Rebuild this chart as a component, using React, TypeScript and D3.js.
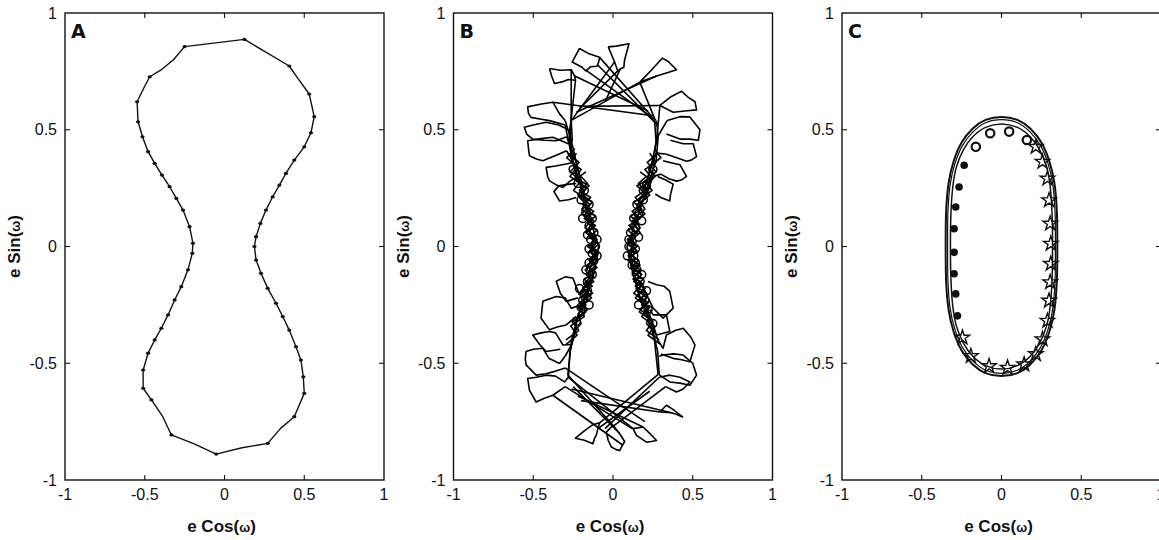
import React from 'react';
import * as d3 from 'd3';

type Pt = [number, number];
type TPt = [number, number, number];

// ---------- axes ----------
const tickValues = [-1, -0.5, 0, 0.5, 1];
const tickLabels = ['-1', '-0.5', '0', '0.5', '1'];
const innerTicks = [-0.5, 0, 0.5];
const panelLetters = ['A', 'B', 'C'];

// ---------- panel A: cusp track (x, y, isCusp) ----------
const aTrack: TPt[] = [
  [0.125, 0.887, 1], [0.406, 0.773, 1], [0.46, 0.72, 0], [0.531, 0.653, 1], [0.5625, 0.556, 1],
  [0.542, 0.487, 1], [0.5, 0.427, 1], [0.4375, 0.37, 1], [0.385, 0.313, 1], [0.344, 0.263, 1],
  [0.302, 0.213, 1], [0.26, 0.156, 1], [0.225, 0.099, 1], [0.198, 0.042, 1], [0.1875, 0, 1],
  [0.198, -0.058, 1], [0.229, -0.115, 1], [0.271, -0.179, 1], [0.323, -0.243, 1], [0.365, -0.3, 1],
  [0.406, -0.358, 1], [0.448, -0.429, 1], [0.479, -0.486, 1], [0.494, -0.558, 1], [0.5, -0.629, 1],
  [0.4375, -0.729, 1], [0.35, -0.78, 0], [0.271, -0.843, 1], [0.11, -0.862, 0], [-0.052, -0.889, 1],
  [-0.19, -0.845, 0], [-0.333, -0.807, 1], [-0.39, -0.725, 0], [-0.458, -0.657, 1], [-0.51, -0.607, 1],
  [-0.51, -0.529, 1], [-0.479, -0.457, 1], [-0.4375, -0.4, 1], [-0.396, -0.35, 1], [-0.354, -0.293, 1],
  [-0.3125, -0.229, 1], [-0.271, -0.172, 1], [-0.229, -0.1, 1], [-0.202, -0.029, 1], [-0.198, 0.014, 1],
  [-0.219, 0.085, 1], [-0.26, 0.156, 1], [-0.302, 0.206, 1], [-0.344, 0.256, 1], [-0.392, 0.306, 1],
  [-0.4375, 0.356, 1], [-0.479, 0.406, 1], [-0.514, 0.47, 1], [-0.542, 0.534, 1], [-0.548, 0.62, 1],
  [-0.505, 0.68, 0], [-0.469, 0.727, 1], [-0.4, 0.755, 0], [-0.32, 0.8, 0], [-0.25, 0.856, 1],
];

// ---------- panel B ----------
const bTopPetals: Pt[][] = [
  [[-0.03, 0.855], [0.02, 0.858], [0.1, 0.868], [0.085, 0.83], [0.073, 0.8], [0.068, 0.768], [0.045, 0.76], [0.03, 0.752], [0.01, 0.79], [-0.03, 0.855]],
  [[-0.21, 0.848], [-0.15, 0.825], [-0.084, 0.81], [-0.09, 0.79], [-0.1, 0.772], [-0.14, 0.77], [-0.17, 0.752], [-0.2, 0.77], [-0.256, 0.79], [-0.21, 0.848]],
  [[-0.398, 0.762], [-0.33, 0.755], [-0.262, 0.757], [-0.24, 0.73], [-0.235, 0.712], [-0.28, 0.715], [-0.32, 0.705], [-0.367, 0.698], [-0.385, 0.73], [-0.398, 0.762]],
  [[0.168, 0.704], [0.24, 0.755], [0.31, 0.807], [0.35, 0.79], [0.398, 0.757], [0.33, 0.742], [0.273, 0.73], [0.168, 0.704]],
  [[0.294, 0.604], [0.36, 0.64], [0.43, 0.665], [0.47, 0.64], [0.514, 0.62], [0.524, 0.585], [0.45, 0.58], [0.377, 0.575], [0.294, 0.604]],
  [[0.34, 0.54], [0.42, 0.556], [0.482, 0.555], [0.545, 0.5], [0.535, 0.455], [0.48, 0.46], [0.42, 0.46], [0.335, 0.482]],
  [[0.36, 0.455], [0.44, 0.44], [0.503, 0.44], [0.524, 0.385], [0.49, 0.37], [0.461, 0.365], [0.4, 0.38], [0.33, 0.396]],
  [[0.314, 0.367], [0.37, 0.358], [0.42, 0.35], [0.461, 0.3], [0.43, 0.285], [0.398, 0.28], [0.35, 0.29], [0.3, 0.31]],
  [[0.28, 0.3], [0.33, 0.285], [0.377, 0.267], [0.36, 0.22], [0.356, 0.195], [0.3, 0.21], [0.265, 0.225]],
  [[-0.3, 0.54], [-0.335, 0.568], [-0.377, 0.618], [-0.45, 0.61], [-0.535, 0.598], [-0.53, 0.57], [-0.514, 0.553], [-0.45, 0.545], [-0.398, 0.539], [-0.3, 0.52]],
  [[-0.28, 0.5], [-0.34, 0.52], [-0.419, 0.532], [-0.5, 0.52], [-0.556, 0.511], [-0.54, 0.48], [-0.503, 0.46], [-0.43, 0.455], [-0.356, 0.453], [-0.29, 0.47]],
  [[-0.28, 0.44], [-0.377, 0.468], [-0.45, 0.462], [-0.535, 0.453], [-0.53, 0.42], [-0.524, 0.389], [-0.48, 0.375], [-0.44, 0.367], [-0.36, 0.39], [-0.29, 0.41]],
  [[-0.25, 0.36], [-0.294, 0.353], [-0.36, 0.345], [-0.419, 0.339], [-0.41, 0.3], [-0.398, 0.281], [-0.35, 0.262], [-0.314, 0.253], [-0.27, 0.28], [-0.231, 0.296]],
  [[-0.23, 0.27], [-0.273, 0.267], [-0.34, 0.26], [-0.37, 0.235], [-0.335, 0.195], [-0.28, 0.2], [-0.231, 0.21]],
];

const bBottomPetals: Pt[][] = [
  [[-0.084, -0.755], [-0.126, -0.763], [-0.18, -0.79], [-0.235, -0.821], [-0.18, -0.83], [-0.126, -0.845], [-0.115, -0.82], [-0.105, -0.809], [-0.095, -0.78], [-0.084, -0.755]],
  [[0, -0.766], [-0.042, -0.795], [-0.03, -0.83], [-0.01, -0.859], [0.02, -0.87], [0.042, -0.874], [0.06, -0.85], [0.073, -0.835], [0.04, -0.8], [0, -0.766]],
  [[0.126, -0.78], [0.147, -0.809], [0.21, -0.838], [0.24, -0.835], [0.273, -0.831], [0.23, -0.8], [0.189, -0.773], [0.126, -0.78]],
  [[0.294, -0.709], [0.335, -0.68], [0.38, -0.7], [0.436, -0.73], [0.4, -0.72], [0.367, -0.712], [0.294, -0.709]],
  [[-0.3, -0.47], [-0.335, -0.501], [-0.4, -0.48], [-0.44, -0.436], [-0.5, -0.44], [-0.545, -0.45], [-0.55, -0.48], [-0.545, -0.507], [-0.482, -0.551], [-0.42, -0.545], [-0.377, -0.537], [-0.3, -0.52]],
  [[-0.28, -0.56], [-0.304, -0.58], [-0.36, -0.555], [-0.419, -0.551], [-0.48, -0.56], [-0.535, -0.565], [-0.524, -0.615], [-0.482, -0.666], [-0.43, -0.65], [-0.377, -0.637], [-0.3, -0.6]],
  [[-0.26, -0.42], [-0.314, -0.422], [-0.36, -0.37], [-0.398, -0.364], [-0.45, -0.37], [-0.503, -0.379], [-0.46, -0.42], [-0.419, -0.45], [-0.33, -0.44]],
  [[-0.2, -0.25], [-0.262, -0.264], [-0.3, -0.22], [-0.356, -0.214], [-0.44, -0.235], [-0.451, -0.307], [-0.398, -0.357], [-0.35, -0.345], [-0.294, -0.336], [-0.23, -0.3]],
  [[-0.18, -0.17], [-0.21, -0.207], [-0.252, -0.135], [-0.3, -0.13], [-0.356, -0.149], [-0.33, -0.2], [-0.294, -0.235], [-0.22, -0.22]],
  [[0.28, -0.4], [0.314, -0.436], [0.335, -0.379], [0.39, -0.36], [0.44, -0.35], [0.49, -0.39], [0.514, -0.422], [0.482, -0.494], [0.43, -0.485], [0.377, -0.479], [0.3, -0.46]],
  [[0.29, -0.47], [0.314, -0.465], [0.38, -0.46], [0.44, -0.465], [0.5, -0.5], [0.524, -0.551], [0.482, -0.594], [0.42, -0.585], [0.356, -0.58], [0.29, -0.55]],
  [[0.29, -0.56], [0.356, -0.551], [0.42, -0.56], [0.482, -0.58], [0.44, -0.61], [0.398, -0.623], [0.33, -0.6]],
  [[0.22, -0.15], [0.273, -0.164], [0.32, -0.17], [0.356, -0.192], [0.377, -0.264], [0.314, -0.307], [0.252, -0.264], [0.22, -0.22]],
  [[0.23, -0.27], [0.252, -0.293], [0.335, -0.293], [0.356, -0.364], [0.273, -0.379], [0.24, -0.34]],
];

const bStrands: Pt[][] = [
  [[-0.17, 0.755], [0.27, 0.54]], [[-0.094, 0.776], [0.28, 0.52]], [[-0.084, 0.81], [0.24, 0.56]],
  [[-0.24, 0.73], [0.22, 0.58]], [[0.03, 0.752], [-0.21, 0.59]], [[0.01, 0.79], [-0.262, 0.539]],
  [[0.045, 0.76], [-0.05, 0.62]], [[0.168, 0.704], [-0.262, 0.54]], [[0.273, 0.73], [-0.23, 0.575]],
  [[0.294, 0.604], [-0.21, 0.6]], [[-0.377, 0.618], [0.25, 0.56]],
  [[-0.3, 0.54], [-0.26, 0.45], [-0.21, 0.3], [-0.17, 0.2]], [[-0.29, 0.47], [-0.24, 0.38], [-0.19, 0.26]],
  [[-0.29, 0.41], [-0.25, 0.36]], [[-0.3, 0.52], [-0.27, 0.42], [-0.23, 0.3]],
  [[-0.262, 0.757], [-0.262, 0.54], [-0.255, 0.45]], [[-0.235, 0.712], [-0.27, 0.5], [-0.26, 0.4]],
  [[0.34, 0.54], [0.28, 0.47], [0.24, 0.35], [0.2, 0.25]], [[0.33, 0.396], [0.27, 0.4], [0.22, 0.3]],
  [[0.3, 0.31], [0.25, 0.3], [0.2, 0.2]], [[0.294, 0.604], [0.28, 0.5], [0.26, 0.4]],
  [[0.168, 0.704], [0.26, 0.55], [0.27, 0.45]],
  [[-0.3, -0.47], [-0.26, -0.42], [-0.22, -0.3], [-0.18, -0.22]], [[-0.28, -0.56], [-0.27, -0.45], [-0.23, -0.35]],
  [[-0.2, -0.25], [-0.16, -0.2]], [[0.28, -0.4], [0.25, -0.33], [0.2, -0.24]],
  [[0.29, -0.55], [0.28, -0.45], [0.24, -0.33]], [[0.22, -0.22], [0.18, -0.16]],
  [[-0.084, -0.755], [0.28, -0.55]], [[-0.095, -0.78], [0.23, -0.62]], [[0, -0.766], [-0.283, -0.55]],
  [[0.04, -0.8], [-0.25, -0.6]], [[0.126, -0.78], [-0.28, -0.56]], [[0.189, -0.773], [-0.22, -0.64]],
  [[0.294, -0.709], [-0.2, -0.66]], [[0.367, -0.712], [-0.26, -0.61]], [[-0.3, -0.6], [0.12, -0.78]],
  [[-0.377, -0.637], [0.06, -0.85]], [[-0.3, -0.52], [0.2, -0.75]], [[0.29, -0.56], [-0.05, -0.78]],
  [[0.33, -0.6], [0.0, -0.77]],
];

const bRims: Pt[][] = [
  [[-0.262, 0.539], [-0.275, 0.468], [-0.25, 0.367], [-0.2, 0.25], [-0.15, 0.13], [-0.09, 0], [-0.115, -0.1], [-0.16, -0.2], [-0.22, -0.3], [-0.26, -0.4], [-0.283, -0.551]],
  [[0.273, 0.539], [0.283, 0.468], [0.27, 0.367], [0.2, 0.22], [0.14, 0.1], [0.088, 0], [0.12, -0.1], [0.16, -0.2], [0.22, -0.3], [0.26, -0.4], [0.283, -0.551]],
];

const bBands: Pt[][] = [
  [[-0.24, 0.42], [-0.29, 0.38], [-0.225, 0.34], [-0.27, 0.3], [-0.185, 0.26], [-0.22, 0.22], [-0.145, 0.18], [-0.195, 0.14], [-0.13, 0.1], [-0.17, 0.06], [-0.1, 0.02], [-0.145, -0.02], [-0.098, -0.06], [-0.175, -0.1], [-0.128, -0.14], [-0.19, -0.18], [-0.135, -0.22], [-0.21, -0.26], [-0.18, -0.3], [-0.265, -0.34], [-0.225, -0.38], [-0.295, -0.42]],
  [[-0.285, 0.4], [-0.213, 0.36], [-0.268, 0.32], [-0.203, 0.28], [-0.248, 0.24], [-0.163, 0.2], [-0.195, 0.16], [-0.128, 0.12], [-0.175, 0.08], [-0.115, 0.04], [-0.147, 0], [-0.096, -0.04], [-0.161, -0.08], [-0.121, -0.12], [-0.184, -0.16], [-0.128, -0.2], [-0.203, -0.24], [-0.17, -0.28], [-0.248, -0.32], [-0.215, -0.36], [-0.295, -0.4]],
  [[-0.2, 0.3], [-0.16, 0.27], [-0.21, 0.24], [-0.14, 0.21], [-0.19, 0.18], [-0.12, 0.15], [-0.18, 0.12], [-0.11, 0.09], [-0.17, 0.06], [-0.1, 0.03], [-0.16, 0], [-0.09, -0.03], [-0.15, -0.06], [-0.1, -0.09], [-0.17, -0.12], [-0.12, -0.15], [-0.19, -0.18], [-0.14, -0.21], [-0.21, -0.24], [-0.16, -0.27], [-0.22, -0.3]],
  [[-0.17, 0.32], [-0.23, 0.29], [-0.15, 0.26], [-0.2, 0.225], [-0.13, 0.19], [-0.17, 0.16], [-0.11, 0.13], [-0.16, 0.1], [-0.1, 0.07], [-0.15, 0.04], [-0.09, 0.01], [-0.14, -0.02], [-0.1, -0.05], [-0.16, -0.08], [-0.11, -0.11], [-0.18, -0.14], [-0.13, -0.17], [-0.2, -0.2], [-0.15, -0.23], [-0.22, -0.26], [-0.18, -0.29], [-0.24, -0.32]],
  [[-0.23, 0.4], [-0.26, 0.36], [-0.2, 0.33], [-0.24, 0.29], [-0.17, 0.25], [-0.21, 0.21], [-0.15, 0.17], [-0.18, 0.13], [-0.12, 0.11], [-0.16, 0.07], [-0.11, 0.04], [-0.13, 0], [-0.1, -0.02], [-0.14, -0.05], [-0.11, -0.08], [-0.15, -0.11], [-0.12, -0.13], [-0.17, -0.16], [-0.15, -0.19], [-0.2, -0.22], [-0.17, -0.25], [-0.22, -0.29], [-0.2, -0.33], [-0.25, -0.37]],
  [[0.26, 0.42], [0.3, 0.38], [0.22, 0.34], [0.265, 0.3], [0.19, 0.26], [0.23, 0.22], [0.15, 0.18], [0.2, 0.14], [0.125, 0.1], [0.17, 0.06], [0.105, 0.02], [0.15, -0.02], [0.095, -0.06], [0.17, -0.1], [0.125, -0.14], [0.2, -0.18], [0.14, -0.22], [0.22, -0.26], [0.18, -0.3], [0.26, -0.34], [0.22, -0.38], [0.3, -0.42]],
  [[0.28, 0.4], [0.215, 0.36], [0.27, 0.32], [0.2, 0.28], [0.245, 0.24], [0.165, 0.2], [0.2, 0.16], [0.13, 0.12], [0.17, 0.08], [0.11, 0.04], [0.15, 0], [0.095, -0.04], [0.165, -0.08], [0.12, -0.12], [0.185, -0.16], [0.13, -0.2], [0.21, -0.24], [0.165, -0.28], [0.25, -0.32], [0.21, -0.36], [0.29, -0.4]],
  [[0.21, 0.3], [0.16, 0.27], [0.2, 0.24], [0.14, 0.21], [0.18, 0.18], [0.12, 0.15], [0.17, 0.12], [0.1, 0.09], [0.15, 0.06], [0.09, 0.03], [0.15, 0], [0.1, -0.03], [0.16, -0.06], [0.11, -0.09], [0.18, -0.12], [0.13, -0.15], [0.2, -0.18], [0.15, -0.21], [0.22, -0.24], [0.17, -0.27], [0.23, -0.3]],
  [[0.17, 0.32], [0.23, 0.29], [0.15, 0.26], [0.21, 0.225], [0.13, 0.19], [0.18, 0.16], [0.11, 0.13], [0.16, 0.1], [0.095, 0.07], [0.14, 0.04], [0.09, 0.01], [0.15, -0.02], [0.1, -0.05], [0.17, -0.08], [0.12, -0.11], [0.19, -0.14], [0.14, -0.17], [0.21, -0.2], [0.16, -0.23], [0.23, -0.26], [0.19, -0.29], [0.25, -0.32]],
  [[0.23, 0.4], [0.27, 0.36], [0.2, 0.33], [0.25, 0.29], [0.17, 0.25], [0.21, 0.21], [0.15, 0.17], [0.18, 0.13], [0.12, 0.11], [0.16, 0.07], [0.105, 0.04], [0.13, 0], [0.1, -0.02], [0.14, -0.05], [0.11, -0.08], [0.16, -0.11], [0.13, -0.13], [0.18, -0.16], [0.16, -0.19], [0.21, -0.22], [0.18, -0.25], [0.23, -0.29], [0.21, -0.33], [0.26, -0.37]],
];

const bBandLoops: Pt[] = [
  [-0.25, 0.33], [-0.22, 0.27], [-0.2, 0.2], [-0.17, 0.15], [-0.15, 0.09], [-0.14, 0.03], [-0.13, -0.03], [-0.14, -0.09],
  [-0.16, -0.15], [-0.18, -0.2], [-0.2, -0.26], [-0.23, -0.32], [-0.19, 0.12], [-0.11, 0.0], [-0.16, 0.05], [-0.12, -0.06],
  [-0.17, -0.1], [-0.21, -0.18], [-0.18, 0.24], [-0.15, 0.18], [-0.13, 0.12], [-0.12, 0.06], [-0.1, 0.03], [-0.15, -0.01],
  [-0.1, -0.04], [-0.15, -0.07], [-0.13, -0.12], [-0.16, -0.19], [-0.19, -0.23], [-0.15, -0.25],
  [0.25, 0.33], [0.21, 0.26], [0.19, 0.2], [0.16, 0.14], [0.14, 0.08], [0.12, 0.02], [0.13, -0.04], [0.15, -0.1],
  [0.17, -0.15], [0.19, -0.21], [0.22, -0.27], [0.25, -0.33], [0.18, 0.11], [0.1, 0.0], [0.16, 0.04], [0.12, -0.08],
  [0.18, -0.12], [0.21, -0.19], [0.19, 0.24], [0.15, 0.18], [0.13, 0.12], [0.11, 0.06], [0.1, 0.03], [0.14, -0.01],
  [0.09, -0.04], [0.14, -0.07], [0.15, -0.12], [0.17, -0.18], [0.2, -0.23], [0.16, -0.25],
];

// ---------- panel C ----------
const cOuter: Pt[] = [
  [0, 0.555], [0.1, 0.542], [0.18, 0.505], [0.25, 0.445], [0.3, 0.365], [0.332, 0.27], [0.347, 0.15], [0.35, 0],
  [0.347, -0.15], [0.332, -0.27], [0.3, -0.365], [0.25, -0.445], [0.18, -0.505], [0.1, -0.542], [0, -0.555],
  [-0.1, -0.542], [-0.18, -0.505], [-0.25, -0.445], [-0.3, -0.365], [-0.332, -0.27], [-0.347, -0.15], [-0.35, 0],
  [-0.347, 0.15], [-0.332, 0.27], [-0.3, 0.365], [-0.25, 0.445], [-0.18, 0.505], [-0.1, 0.542],
];
const cMid: Pt[] = [
  [0, 0.543], [0.1, 0.53], [0.18, 0.49], [0.245, 0.432], [0.292, 0.355], [0.322, 0.265], [0.336, 0.145], [0.338, 0],
  [0.336, -0.145], [0.322, -0.265], [0.292, -0.355], [0.245, -0.432], [0.18, -0.49], [0.1, -0.53], [0, -0.543],
  [-0.1, -0.53], [-0.18, -0.49], [-0.245, -0.432], [-0.292, -0.355], [-0.322, -0.265], [-0.336, -0.145], [-0.338, 0],
  [-0.336, 0.145], [-0.322, 0.265], [-0.292, 0.355], [-0.245, 0.432], [-0.18, 0.49], [-0.1, 0.53],
];
const cInner: Pt[] = [
  [0, 0.525], [0.1, 0.51], [0.18, 0.47], [0.238, 0.415], [0.282, 0.342], [0.305, 0.258], [0.317, 0.14], [0.32, 0],
  [0.317, -0.14], [0.305, -0.258], [0.282, -0.342], [0.238, -0.415], [0.18, -0.47], [0.1, -0.51], [0, -0.525],
  [-0.1, -0.51], [-0.18, -0.47], [-0.238, -0.415], [-0.282, -0.342], [-0.305, -0.258], [-0.317, -0.14], [-0.32, 0],
  [-0.317, 0.14], [-0.305, 0.258], [-0.282, 0.342], [-0.238, 0.415], [-0.18, 0.47], [-0.1, 0.51],
];
const cStars: Pt[] = [
  [0.215, 0.427], [0.257, 0.363], [0.288, 0.291], [0.298, 0.198], [0.305, 0.098], [0.309, 0.012], [0.309, -0.074],
  [0.305, -0.153], [0.298, -0.232], [0.288, -0.318], [0.257, -0.397], [0.215, -0.461], [0.142, -0.505],
  [0.038, -0.519], [-0.078, -0.512], [-0.192, -0.469], [-0.245, -0.39],
];
const cRings: Pt[] = [[-0.161, 0.427], [-0.071, 0.485], [0.048, 0.492], [0.159, 0.456]];
const cBlobs: Pt[] = [
  [-0.234, 0.348], [-0.266, 0.255], [-0.287, 0.169], [-0.297, 0.076], [-0.297, -0.025], [-0.297, -0.117],
  [-0.287, -0.203], [-0.276, -0.297],
];

// ---------- layout ----------
const W = 1159;
const H = 540;
const PLOT_TOP = 13;
const PLOT_BOTTOM = 480;
const PLOT_W = 319;
const PANEL_LEFTS = [65, 453.5, 842];
const FONT = "'Liberation Sans', Arial, Helvetica, sans-serif";

function AxisLabel({ x, y, base, rotate }: { x: number; y: number; base: string; rotate?: boolean }) {
  return (
    <text
      x={x}
      y={y}
      textAnchor="middle"
      fontFamily={FONT}
      fontWeight="bold"
      fontSize={17}
      fill="#111"
      transform={rotate ? `rotate(-90 ${x} ${y})` : undefined}
    >
      {base}(<tspan fontSize={13}>ω</tspan>)
    </text>
  );
}

export default function App() {
  const yScale = d3.scaleLinear().domain([-1, 1]).range([PLOT_BOTTOM, PLOT_TOP]);

  const panels = PANEL_LEFTS.map((left, i) => {
    const xScale = d3.scaleLinear().domain([-1, 1]).range([left, left + PLOT_W]);
    const line = d3.line<Pt>().x((d) => xScale(d[0])).y((d) => yScale(d[1]));
    const closed = d3.line<Pt>().x((d) => xScale(d[0])).y((d) => yScale(d[1])).curve(d3.curveLinearClosed);
    const smoothClosed = d3
      .line<Pt>()
      .x((d) => xScale(d[0]))
      .y((d) => yScale(d[1]))
      .curve(d3.curveCardinalClosed.tension(0.2));
    const clipId = `clip${i}`;
    const cx = left + PLOT_W / 2;
    const cy = (PLOT_TOP + PLOT_BOTTOM) / 2;

    let content: React.ReactNode = null;
    if (i === 0) {
      const pts: Pt[] = aTrack.map((d) => [d[0], d[1]]);
      content = (
        <g>
          <path d={closed(pts) || ''} fill="none" stroke="#111" strokeWidth={1.4} strokeLinejoin="round" />
          {aTrack
            .filter((d) => d[2] === 1)
            .map((d, k) => (
              <ellipse key={k} cx={xScale(d[0])} cy={yScale(d[1])} rx={2.1} ry={1.6} fill="#111" />
            ))}
        </g>
      );
    } else if (i === 1) {
      const all = [...bTopPetals, ...bBottomPetals, ...bStrands, ...bRims, ...bBands];
      content = (
        <g>
          {all.map((p, k) => (
            <path key={k} d={line(p) || ''} fill="none" stroke="#000" strokeWidth={1.6} strokeLinejoin="round" />
          ))}
          {bBandLoops.map((d, k) => (
            <circle key={`l${k}`} cx={xScale(d[0])} cy={yScale(d[1])} r={4} fill="none" stroke="#000" strokeWidth={1.5} />
          ))}
        </g>
      );
    } else {
      const star = d3.symbol().type(d3.symbolStar).size(65);
      content = (
        <g>
          <path d={smoothClosed(cOuter) || ''} fill="none" stroke="#111" strokeWidth={2} />
          <path d={smoothClosed(cMid) || ''} fill="none" stroke="#111" strokeWidth={1.2} />
          <path d={smoothClosed(cInner) || ''} fill="none" stroke="#111" strokeWidth={1.5} />
          {cStars.map((d, k) => (
            <path
              key={`s${k}`}
              d={star() || ''}
              transform={`translate(${xScale(d[0])},${yScale(d[1])})`}
              fill="none"
              stroke="#111"
              strokeWidth={1.4}
            />
          ))}
          {cRings.map((d, k) => (
            <circle key={`r${k}`} cx={xScale(d[0])} cy={yScale(d[1])} r={4.2} fill="none" stroke="#111" strokeWidth={2.2} />
          ))}
          {cBlobs.map((d, k) => (
            <circle key={`b${k}`} cx={xScale(d[0])} cy={yScale(d[1])} r={3.8} fill="#111" />
          ))}
        </g>
      );
    }

    return (
      <g key={i}>
        <defs>
          <clipPath id={clipId}>
            <rect x={left} y={PLOT_TOP} width={PLOT_W} height={PLOT_BOTTOM - PLOT_TOP} />
          </clipPath>
        </defs>
        <g clipPath={`url(#${clipId})`}>{content}</g>
        <rect x={left} y={PLOT_TOP} width={PLOT_W} height={PLOT_BOTTOM - PLOT_TOP} fill="none" stroke="#111" strokeWidth={1.4} />
        {innerTicks.map((t) => (
          <g key={`t${t}`} stroke="#111" strokeWidth={1.1}>
            <line x1={xScale(t)} x2={xScale(t)} y1={PLOT_BOTTOM} y2={PLOT_BOTTOM - 5} />
            <line x1={xScale(t)} x2={xScale(t)} y1={PLOT_TOP} y2={PLOT_TOP + 5} />
            <line x1={left} x2={left + 5} y1={yScale(t)} y2={yScale(t)} />
            <line x1={left + PLOT_W} x2={left + PLOT_W - 5} y1={yScale(t)} y2={yScale(t)} />
          </g>
        ))}
        {tickValues.map((t, k) => (
          <text
            key={`yl${k}`}
            x={left - 8}
            y={yScale(t)}
            textAnchor="end"
            dominantBaseline="central"
            fontFamily={FONT}
            fontSize={16}
            fill="#111"
          >
            {tickLabels[k]}
          </text>
        ))}
        {tickValues.map((t, k) => (
          <text
            key={`xl${k}`}
            x={xScale(t)}
            y={PLOT_BOTTOM + 14}
            textAnchor="middle"
            dominantBaseline="central"
            fontFamily={FONT}
            fontSize={16}
            fill="#111"
          >
            {tickLabels[k]}
          </text>
        ))}
        <text x={left + 6} y={PLOT_TOP + 25} fontFamily="'DejaVu Sans', sans-serif" fontWeight="bold" fontSize={19} fill="#111">
          {panelLetters[i]}
        </text>
        <AxisLabel x={cx - 3} y={532} base="e Cos" />
        <AxisLabel x={left - 45} y={cy} base="e Sin" rotate />
      </g>
    );
  });

  return (
    <svg
      width={W}
      height={H}
      viewBox={`0 0 ${W} ${H}`}
      style={{ position: 'absolute', left: 0, top: 0, background: '#fff' }}
    >
      <rect x={0} y={0} width={W} height={H} fill="#fff" />
      {panels}
    </svg>
  );
}
